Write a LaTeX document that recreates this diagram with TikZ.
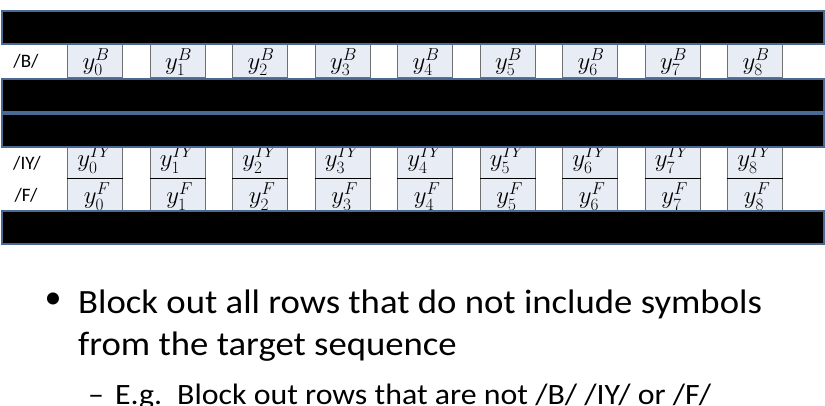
\documentclass[tikz,border=0pt]{standalone}
\usepackage{fontspec}
\setmainfont{Carlito}
\newfontfamily\widefont[FakeStretch=1.08]{Carlito}
\definecolor{barblue}{HTML}{4A6A94}
\definecolor{cellfill}{HTML}{E8ECF4}
\definecolor{cellgray}{HTML}{707070}
\begin{document}
\begin{tikzpicture}[x=1pt,y=-1pt,
  bar/.style={draw=barblue, line width=2pt, fill=black, inner sep=0pt, anchor=north west,
    minimum width=822pt, minimum height=33pt},
  cell/.style={draw=cellgray, line width=1.2pt, fill=cellfill, inner sep=0pt, anchor=north west,
    minimum width=55pt, minimum height=33pt},
  cellh/.style={cell, minimum height=32pt},
  celltxt/.style={inner sep=0pt, font=\fontsize{23}{26}\selectfont},
  rowlab/.style={inner sep=0pt, font=\fontsize{19}{23}\selectfont},
  body/.style={inner sep=0pt, anchor=base west, font=\widefont\fontsize{34}{40}\selectfont},
  sub/.style={inner sep=0pt, anchor=base west, font=\widefont\fontsize{29.5}{34}\selectfont}
]
\useasboundingbox (0,0) rectangle (825,405);
% cells
\foreach \k in {0,...,8}{
  \node[cell] (b\k) at ({67+82.5*\k},44) {};
  \node[cellh] (iy\k) at ({67+82.5*\k},146) {};
  \node[cellh] (f\k) at ({67+82.5*\k},178) {};
  \draw[black, line width=1pt] (f\k.north west) -- (f\k.north east);
  \node[celltxt] (tb\k) at ([xshift=1pt,yshift=-1pt]b\k.center) {$y_{\k}^{B}$};
  \node[celltxt] (tiy\k) at ([yshift=3pt]iy\k.center) {$y_{\k}^{IY}$};
  \node[celltxt] (tf\k) at ([xshift=2pt,yshift=-2pt]f\k.center) {$y_{\k}^{F}$};
}
% black bars
\node[bar] (bar1) at (1,10) {};
\node[bar] (bar2) at (1,78) {};
\node[bar] (bar3) at (1,112.5) {};
\node[bar] (bar4) at (1,210) {};
% row labels
\node[rowlab] (lb) at (26,61) {/B/};
\node[rowlab] (liy) at (27,163) {/IY/};
\node[rowlab] (lf) at (26,195) {/F/};
% bullet text
\node[inner sep=0pt, font=\fontsize{34}{40}\selectfont] (dot) at (53,301) {•};
\node[body] (l1) at (78,313) {Block out all rows that do not include symbols};
\node[body] (l2) at (78,355) {from the target sequence};
\node[sub] (dash) at (88,404) {–};
\node[sub] (eg) at (115,404) {E.g.};
\node[sub] (l3) at (177,404) {Block out rows that are not /B/ /IY/ or /F/};
\end{tikzpicture}
\end{document}
